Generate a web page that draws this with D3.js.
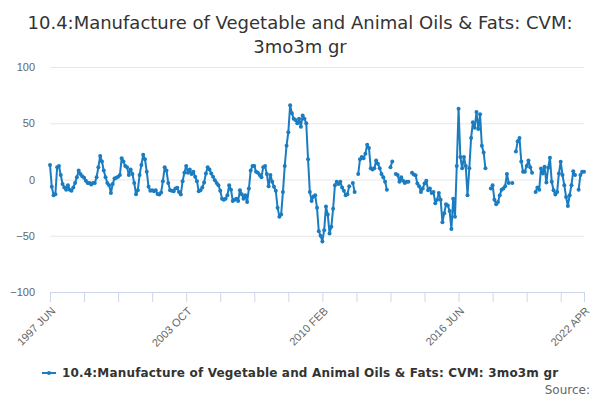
<!DOCTYPE html>
<html>
<head>
<meta charset="utf-8">
<script src="https://cdn.jsdelivr.net/npm/d3@7"></script>
<style>
  body { margin: 0; background: #fff; }
  svg { font-family: "DejaVu Sans", sans-serif; }
</style>
</head>
<body>
<div id="chart"><svg></svg></div>
<script>
// series: 3 month on 3 month growth, monthly from 1997 JUN to 2022 APR (null = no value)
var startYear = 1997, startMonth = 5; // JUN
var monthNames = ["JAN","FEB","MAR","APR","MAY","JUN","JUL","AUG","SEP","OCT","NOV","DEC"];

var values = [
  12.8, -6.5, -14, -13, 11, 12, 4, -4, -7, -9,
  -5, -9, -10, -7, -3, 2, 8, 5, 3, 1.5,
  -1, -3, -3, -4.5, -3, -3, 2, 11, 21, 16,
  8, 2, -3, -5, -12, -4, 1, 1.5, 2.5, 4,
  19, 16, 12, 11, 4, 9, 5, -3, -13, -9.5,
  4, 13, 22, 18, 7, -6.5, -10, -9.5, -10.4, -9.5,
  -12.8, -13.4, -11.6, -1.5, 11, 8, -3, -9.5, -10, -10.4,
  -8, -7.4, -11, -13.4, -1.5, 6, 12, 6, 9, 5,
  7, 2.4, -1.5, -10.4, -9.5, -7, -2.7, 5.4, 11, 9,
  5.4, 2.4, -0.6, -3, -5, -10, -17, -18, -17, -14,
  -5, -9, -19, -18, -17, -19, -9.5, -13, -17, -14,
  -20, -8, 8, 12, 12, 7, 6, 4, 2, 11,
  12, 5, -6, 4, -2, -6.5, -10, -25, -33, -31,
  -11, 12, 30, 42, 66, 59, 54, 53, 50, 54,
  47, 57, 54, 50, 18, -11, -19, -15, -14, -25,
  -46, -50, -55, -45, -24, -31, -48, -42, -26, -5,
  -2, -4, -2, -7, -10, -14, -13, -6, null, -3,
  -11, null, 5, 18, 20, 19, 23, 31, 28, 10,
  9, 10, 17, 14, 10, 5, 2, -2, -9, null,
  11, 16, null, 5, 4, -2, 2, -1, -3, -2,
  -2, null, 6, 4.5, 3.8, -3.6, -6, -11, -8, -3.6,
  -1, -9.5, -8, -12, -11, -21, -18, -12, -18, -38,
  -30, -22, -23, -28, -44, -17, -33, 12, 63, 20,
  10, 20, 12, -14, 10, 37, 51, 46, 60, 45,
  58, 30, 24, 10, null, null, -8, -5, -18, -22,
  -20, -14, -9, -8, -6, 5, -3, null, -3, null,
  25, 34, 37, 16, 7, 7, 12, 17, 11, 6,
  null, -11, -7, -9, 9.8, 5.4, 11.3, -2.7, 10.4, 19.3,
  -2, -9.5, -13.4, -11, 5.4, 15.8, 3.9, -5, -15.5, -23.5,
  -14, -5, 7.4, 3.9, null, -9, 4, 7, 7
];

var categories = values.map(function (v, i) {
  var m = startMonth + i;
  return (startYear + Math.floor(m / 12)) + " " + monthNames[m % 12];
});

var tickLabels = ["1997 JUN", "2003 OCT", "2010 FEB", "2016 JUN", "2022 APR"];
var yTicks = [-100, -50, 0, 50, 100];
var seriesName = "10.4:Manufacture of Vegetable and Animal Oils & Fats: CVM: 3mo3m gr";
var titleLines = ["10.4:Manufacture of Vegetable and Animal Oils & Fats: CVM:", "3mo3m gr"];

var width = 600, height = 400;
var margin = { top: 67, right: 16, bottom: 108, left: 50 };
var color = "#1a7cc1";

var svg = d3.select("div#chart").select("svg")
  .attr("width", width)
  .attr("height", height);

// title
svg.append("text")
  .attr("x", width / 2)
  .attr("y", 29)
  .attr("text-anchor", "middle")
  .attr("fill", "#333")
  .style("font-size", "18px")
  .selectAll("tspan")
  .data(titleLines)
  .join("tspan")
  .attr("x", width / 2)
  .attr("dy", (d, i) => i == 0 ? 0 : 24)
  .text(d => d);

var x = d3.scalePoint()
  .domain(categories)
  .range([margin.left, width - margin.right]);

var y = d3.scaleLinear()
  .domain([-100, 100])
  .range([height - margin.bottom, margin.top]);

// grid lines + y labels
function yAxis(g) {
  g.attr("transform", `translate(${margin.left}, 0)`)
    .call(d3.axisLeft(y).tickValues(yTicks).tickSize(-(width - margin.left - margin.right)).tickPadding(15))
    .call(g => g.select(".domain").remove())
    .call(g => g.selectAll(".tick line").attr("stroke", "#e6e6e6"))
    .call(g => g.selectAll(".tick text").attr("fill", "#666").style("font-size", "11px"));
}
svg.append("g").attr("class", "yAxis").call(yAxis);

// x axis: a tick every 19 months plus the last month
var tickIdx = d3.range(0, categories.length, 19);
tickIdx.push(categories.length - 1);

function xAxis(g) {
  g.attr("transform", `translate(0, ${height - margin.bottom})`)
    .call(d3.axisBottom(x)
      .tickValues(tickIdx.map(i => categories[i]))
      .tickSize(10)
      .tickSizeOuter(0)
      .tickFormat(d => tickLabels.indexOf(d) >= 0 ? d : ""))
    .call(g => g.select(".domain").attr("stroke", "#ccd6eb"))
    .call(g => g.selectAll(".tick line").attr("stroke", "#ccd6eb"))
    .selectAll("text")
    .attr("fill", "#666")
    .style("font-size", "11px")
    .attr("x", 0)
    .attr("y", 0)
    .attr("dy", "0.35em")
    .attr("transform", "translate(3,17) rotate(-45)")
    .style("text-anchor", "end");
}
svg.append("g").attr("class", "xAxis").call(xAxis);

var points = values.map((v, i) => ({ cat: categories[i], v: v }));

var line = d3.line()
  .defined(d => d.v != null)
  .x(d => x(d.cat))
  .y(d => y(d.v));

svg.append("path")
  .datum(points)
  .attr("fill", "none")
  .attr("stroke", color)
  .attr("stroke-width", 2)
  .attr("stroke-linejoin", "round")
  .attr("d", line);

svg.append("g")
  .attr("fill", color)
  .selectAll("circle")
  .data(points.filter(d => d.v != null))
  .join("circle")
  .attr("cx", d => x(d.cat))
  .attr("cy", d => y(d.v))
  .attr("r", 2);

// legend
var legend = svg.append("g").attr("transform", "translate(42, 373)");
legend.append("line")
  .attr("x1", 0).attr("x2", 14)
  .attr("stroke", color).attr("stroke-width", 2);
legend.append("circle").attr("cx", 7).attr("r", 2).attr("fill", color);
legend.append("text")
  .attr("x", 20)
  .attr("dy", "0.35em")
  .attr("fill", "#333")
  .style("font-size", "12px")
  .style("font-weight", "bold")
  .style("letter-spacing", "0.18px")
  .text(seriesName);

svg.append("text")
  .attr("x", 590)
  .attr("y", 394)
  .attr("text-anchor", "end")
  .attr("fill", "#666")
  .style("font-size", "12px")
  .text("Source:");
</script>
</body>
</html>
